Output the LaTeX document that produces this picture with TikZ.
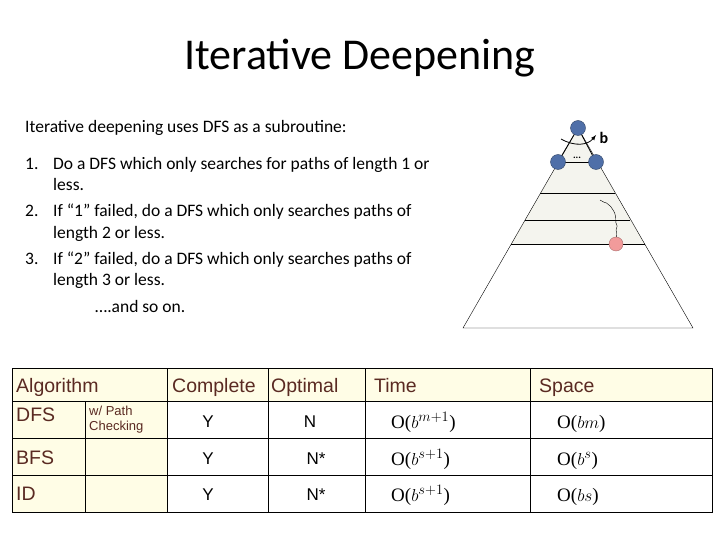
\documentclass[tikz,border=0pt]{standalone}
\usepackage{fontspec}
\setmainfont{Carlito}
\newfontfamily\arialfont{Liberation Sans}
\newfontfamily\timesfont{Liberation Serif}
\usetikzlibrary{decorations.pathmorphing}
\definecolor{headred}{HTML}{5A2A22}
\definecolor{cellyellow}{HTML}{FFFDE6}
\definecolor{nodeblue}{HTML}{4F6FA8}
\definecolor{nodered}{HTML}{F29B9B}
\definecolor{levelgray}{HTML}{F4F4EE}

\begin{document}
\begin{tikzpicture}[x=1pt,y=-1pt]
\tikzset{BodyText/.style = {anchor= base west, font=\fontsize{17.5}{20}\selectfont, inner sep=0},
  HeadCell/.style = {anchor= base west, font=\arialfont\fontsize{19.5}{22}\selectfont, text=headred, inner sep=0},
  RowCell/.style = {anchor= base, font=\arialfont\fontsize{17}{19}\selectfont, inner sep=0},
  MathCell/.style = {anchor= base west, font=\timesfont\fontsize{19}{21}\selectfont, inner sep=0},
  TreeNode/.style = {circle, draw=nodeblue!60!black, fill=nodeblue, minimum size=15pt, inner sep=0}
}
\useasboundingbox (0,0) rectangle (720,540);

    % Title and text
    \node[font=\fontsize{44}{48}\selectfont] (title) at (360,58) {Iterative Deepening};
    \node[BodyText] (intro) at (25,133) {Iterative deepening uses DFS as a subroutine:};
    \node[BodyText] (n1) at (25,170) {1.};
    \node[BodyText] (l1a) at (53,170) {Do a DFS which only searches for paths of length 1 or};
    \node[BodyText] (l1b) at (53,191) {less.};
    \node[BodyText] (n2) at (25,217) {2.};
    \node[BodyText] (l2a) at (53,217) {If ``1'' failed, do a DFS which only searches paths of};
    \node[BodyText] (l2b) at (53,238) {length 2 or less.};
    \node[BodyText] (n3) at (25,264) {3.};
    \node[BodyText] (l3a) at (53,264) {If ``2'' failed, do a DFS which only searches paths of};
    \node[BodyText] (l3b) at (53,285) {length 3 or less.};
    \node[BodyText] (more) at (95,312) {\dots.and so on.};

    % Search tree
    \fill[levelgray] (578,128) -- (511,244) -- (645,244) -- cycle;
    \draw (578,128) -- (463,328) -- (693,328) -- cycle;
    \draw (540,193) -- (615,193);
    \draw (525,220) -- (630,220);
    \draw (511,244) -- (645,244);
    \draw[thick] (558,162) -- (578,128) -- (596,162);
    \draw (558,162) -- (596,162);
    \node[font=\bfseries\fontsize{10}{10}\selectfont] (dots) at (577,158) {...};
    \draw[thick,-latex] (561,139) .. controls (575,147) and (588,145) .. (596,135);
    \node[font=\bfseries\fontsize{16}{16}\selectfont] (b) at (604,138) {b};
    \node[TreeNode] (root) at (578,128) {};
    \node[TreeNode] (left) at (558,162) {};
    \node[TreeNode] (right) at (596,162) {};
    \node[circle, draw=nodered!70!black, fill=nodered, minimum size=14pt, inner sep=0] (goal) at (616,244) {};
    \draw[decorate, decoration={random steps, segment length=4pt, amplitude=1pt}] (600,200) .. controls (612,206) and (618,215) .. (goal);

    % Table
    \fill[cellyellow] (12,368) rectangle (712,401);
    \fill[cellyellow] (12,401) rectangle (167,512);
    \draw[thick] (12,368) rectangle (712,512);
    \foreach \y in {401,438,475} \draw[thick] (12,\y) -- (712,\y);
    \draw[thick] (85,401) -- (85,512);
    \foreach \x in {167,268,365,530} \draw[thick] (\x,368) -- (\x,512);

    \node[HeadCell] (hAlg) at (16,392) {Algorithm};
    \node[HeadCell] (hComp) at (172,392) {Complete};
    \node[HeadCell] (hOpt) at (271,392) {Optimal};
    \node[HeadCell] (hTime) at (374,392) {Time};
    \node[HeadCell] (hSpace) at (539,392) {Space};

    \node[HeadCell] (dfs) at (16,421) {DFS};
    \node[anchor=west, font=\arialfont\fontsize{13}{15}\selectfont, text=headred, align=left, inner sep=0] (path) at (89,420) {w/ Path\\Checking};
    \node[HeadCell] (bfs) at (16,464) {BFS};
    \node[HeadCell] (id) at (16,500) {ID};

    \node[RowCell] (c1) at (208,427) {Y};
    \node[RowCell] (c2) at (208,464) {Y};
    \node[RowCell] (c3) at (208,500) {Y};
    \node[RowCell] (o1) at (310,427) {N};
    \node[RowCell] (o2) at (316,464) {N*};
    \node[RowCell] (o3) at (316,500) {N*};

    \node[MathCell] (t1) at (391,428) {O($b^{m+1}$)};
    \node[MathCell] (t2) at (391,465) {O($b^{s+1}$)};
    \node[MathCell] (t3) at (391,501) {O($b^{s+1}$)};
    \node[MathCell] (s1) at (557,428) {O($bm$)};
    \node[MathCell] (s2) at (557,465) {O($b^{s}$)};
    \node[MathCell] (s3) at (557,501) {O($bs$)};
\end{tikzpicture}
\end{document}
